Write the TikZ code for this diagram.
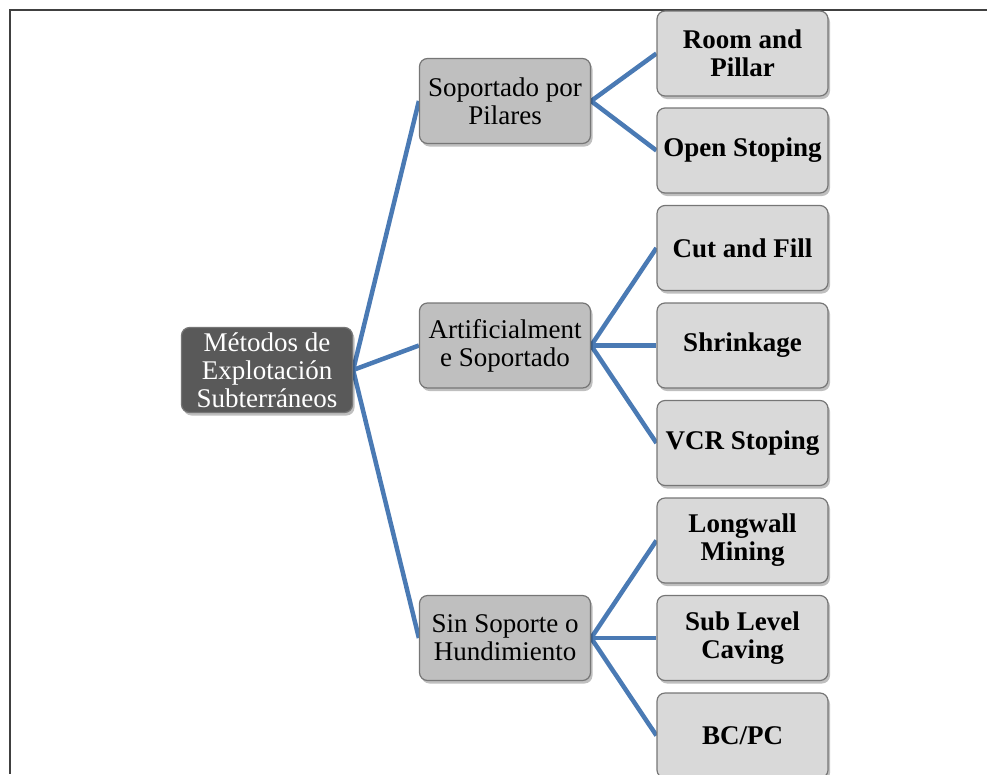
\documentclass[tikz,border=0pt]{standalone}
\usepackage{fontspec}
\setmainfont{Liberation Serif}
\usetikzlibrary{shadows,backgrounds}
\definecolor{linkblue}{RGB}{74,122,180}
\definecolor{rootgray}{RGB}{89,89,89}
\definecolor{midgray}{RGB}{191,191,191}
\definecolor{leafgray}{RGB}{217,217,217}
\definecolor{edgegray}{RGB}{118,118,118}
\tikzset{
  box/.style={draw=edgegray, line width=1.2pt, rounded corners=8pt,
    minimum width=171pt, minimum height=85pt, inner sep=0pt, align=center,
    font=\fontsize{27}{28}\selectfont,
    drop shadow={shadow xshift=2pt, shadow yshift=-3pt, fill=black, opacity=0.25}},
  rootbox/.style={box, fill=rootgray, text=white},
  midbox/.style={box, fill=midgray},
  leafbox/.style={box, fill=leafgray, font=\fontsize{27}{28}\selectfont\bfseries},
  link/.style={draw=linkblue, line width=4.5pt}
}
\begin{document}
\begin{tikzpicture}[x=1pt,y=-1pt]
      \useasboundingbox (0,0) rectangle (987,774);
      \draw[black!75, line width=1.5pt] (987,10) -- (10,10) -- (10,774);
      \node[rootbox](R) at (267, 370) {Métodos de\\Explotación\\Subterráneos};
      \foreach \x/\y/\t in{1/101/{Soportado por\\Pilares}, 2/345.5/{Artificialment\\e Soportado}, 3/638/{Sin Soporte o\\Hundimiento}}{
        \node[midbox](M\x) at (505, \y) {\t};
      }
      \foreach \x/\y/\t in{1/53.5/{Room and\\Pillar}, 2/150.5/{Open Stoping}, 3/248/{Cut and Fill}, 4/345.5/{Shrinkage}, 5/443/{VCR Stoping}, 6/540.5/{Longwall\\Mining}, 7/638/{Sub Level\\Caving}, 8/735.5/{BC/PC}}{
        \node[leafbox](L\x) at (742.5, \y) {\t};
      }
      \begin{scope}[on background layer]
        \foreach \x in{1, 2, 3}{
          \draw[link](R.east) -- (M\x.west);
        }
        \foreach \x/\y in{1/1, 1/2, 2/3, 2/4, 2/5, 3/6, 3/7, 3/8}{
          \draw[link](M\x.east) -- (L\y.west);
        }
      \end{scope}
    \end{tikzpicture}
\end{document}
